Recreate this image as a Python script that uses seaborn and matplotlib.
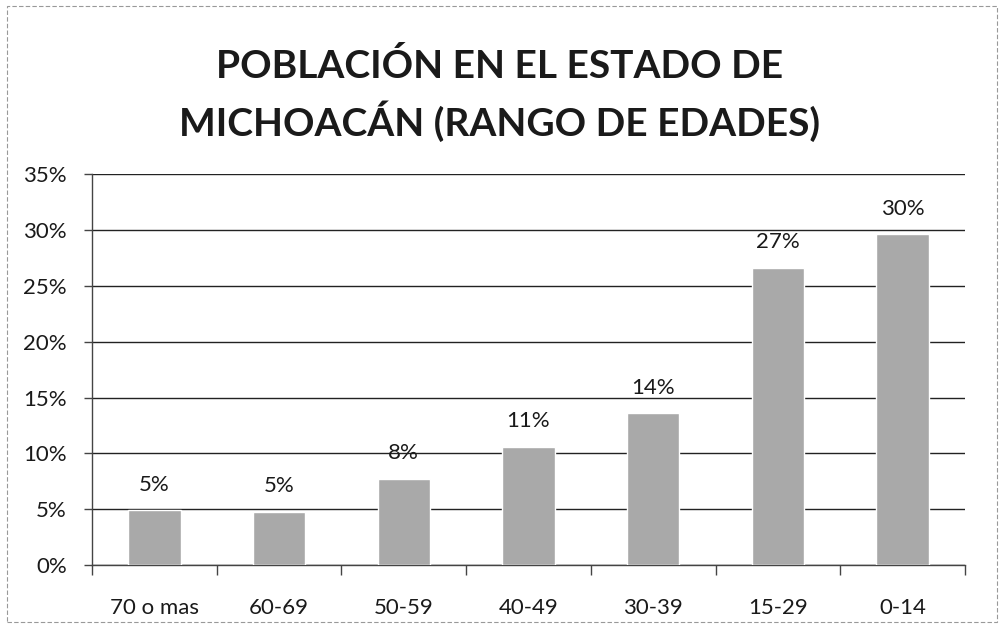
import matplotlib
matplotlib.use('Agg')
import matplotlib.pyplot as plt
import pandas as pd
import seaborn as sns
from matplotlib.patches import Rectangle
from matplotlib.ticker import FixedLocator, FuncFormatter

edades = ['70 o mas', '60-69', '50-59', '40-49', '30-39', '15-29', '0-14']
porcentaje = [4.9, 4.8, 7.7, 10.6, 13.6, 26.6, 29.6]
yticks = [0, 5, 10, 15, 20, 25, 30, 35]

df = pd.DataFrame({'Edad': edades, 'Porcentaje': porcentaje})

sns.set_style('white')
plt.rcParams['font.family'] = ['Lato', 'DejaVu Sans']

fig = plt.figure(figsize=(10, 6.35), dpi=100)
ax = fig.add_axes([0.092, 0.110, 0.873, 0.616])

sns.barplot(data=df, x='Edad', y='Porcentaje', color='#a9a9a9', width=0.42,
            saturation=1, ax=ax, zorder=3)

for i, v in enumerate(porcentaje):
    ax.text(i, v + 1.4, f'{v:.0f}%', ha='center', va='bottom', fontsize=16, color='#1a1a1a')

ax.set_ylim(0, 35)
ax.set_xlim(-0.5, len(edades) - 0.5)
ax.set_yticks(yticks)
ax.yaxis.set_major_formatter(FuncFormatter(lambda v, p: f'{v:.0f}%'))
ax.grid(axis='y', color='#222222', linewidth=1, zorder=0)
ax.set_xlabel('')
ax.set_ylabel('')

for s in ['top', 'right']:
    ax.spines[s].set_visible(False)
ax.spines['left'].set_color('#444444')
ax.spines['bottom'].set_color('#444444')
ax.spines['left'].set_linewidth(1)
ax.spines['bottom'].set_linewidth(1)

ax.xaxis.set_minor_locator(FixedLocator([i - 0.5 for i in range(len(edades) + 1)]))
ax.tick_params(axis='x', which='major', length=0, labelsize=16, pad=24, colors='#1a1a1a')
ax.tick_params(axis='x', which='minor', length=7, width=1, color='#444444', direction='out', bottom=True)
ax.tick_params(axis='y', which='major', length=6, width=1, color='#444444', labelsize=16,
               direction='out', left=True, pad=12, colors='#1a1a1a')

fig.text(0.5, 0.85, 'POBLACIÓN EN EL ESTADO DE\nMICHOACÁN (RANGO DE EDADES)',
         ha='center', va='center', fontsize=28, fontweight='bold', color='#1a1a1a',
         linespacing=1.45)

fig.patches.append(Rectangle((0.007, 0.02), 0.99, 0.97, transform=fig.transFigure,
                             fill=False, edgecolor='#999999', linewidth=0.8, linestyle=(0, (4, 2))))

fig.savefig('out.png', dpi=100)
